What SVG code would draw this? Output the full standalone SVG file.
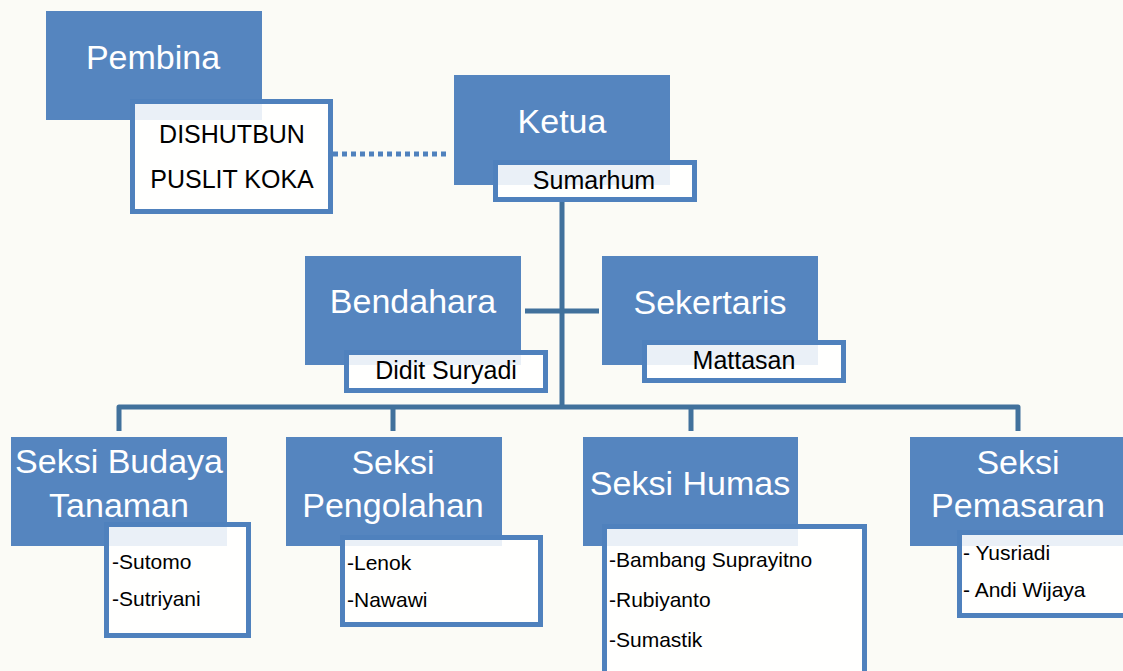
<svg xmlns="http://www.w3.org/2000/svg" width="1123" height="671" viewBox="0 0 1123 671">
<style>
.bg{fill:#fbfbf6}
.head{fill:#4f81bd;fill-opacity:0.97}
.sub{fill:#ffffff;fill-opacity:0.88;stroke:#4f81bd;stroke-width:5}
.ht{font-family:"Liberation Sans",Arial,sans-serif;font-size:34px;fill:#ffffff}
.st{font-family:"Liberation Sans",Arial,sans-serif;font-size:25px;fill:#000000}
.lt{font-family:"Liberation Sans",Arial,sans-serif;font-size:21px;fill:#000000}
.conn{fill:none;stroke:#41719c;stroke-width:5;stroke-linejoin:round}
</style>
<rect class="bg" x="0" y="0" width="1123" height="671"/>
<g id="connectors">
<path class="conn" d="M562,202 V407"/>
<path class="conn" d="M525,311 H599"/>
<path class="conn" d="M119,431 V407 H1018 V431"/>
<path class="conn" d="M393,407 V431"/>
<path class="conn" d="M691,407 V431"/>
<path d="M333,154 H448" fill="none" stroke="#4f81bd" stroke-width="5" stroke-dasharray="5 4"/>
</g>
<g id="pembina">
<rect class="head" x="46" y="11" width="216" height="109"/>
<text class="ht" x="153" y="69" text-anchor="middle">Pembina</text>
<rect class="sub" x="132.5" y="101.5" width="198" height="110"/>
<text class="st" x="232" y="143" text-anchor="middle" font-size="23">DISHUTBUN</text>
<text class="st" x="232" y="188" text-anchor="middle" font-size="23">PUSLIT KOKA</text>
</g>
<g id="ketua">
<rect class="head" x="454" y="75" width="216" height="110"/>
<text class="ht" x="562" y="133" text-anchor="middle">Ketua</text>
<rect class="sub" x="495.5" y="162.5" width="199" height="37"/>
<text class="st" x="594" y="189" text-anchor="middle">Sumarhum</text>
</g>
<g id="bendahara">
<rect class="head" x="305" y="256" width="216" height="109"/>
<text class="ht" x="413" y="313" text-anchor="middle">Bendahara</text>
<rect class="sub" x="346.5" y="352.5" width="199" height="38"/>
<text class="st" x="446" y="379" text-anchor="middle">Didit Suryadi</text>
</g>
<g id="sekertaris">
<rect class="head" x="602" y="256" width="216" height="109"/>
<text class="ht" x="710" y="314" text-anchor="middle">Sekertaris</text>
<rect class="sub" x="644.5" y="342.5" width="199" height="38"/>
<text class="st" x="744" y="369" text-anchor="middle">Mattasan</text>
</g>
<g id="seksi-budaya">
<rect class="head" x="11" y="437" width="216" height="109"/>
<text class="ht" x="119" y="473" text-anchor="middle">Seksi Budaya</text>
<text class="ht" x="119" y="517" text-anchor="middle">Tanaman</text>
<rect class="sub" x="106.5" y="524.5" width="142" height="111"/>
<text class="lt" x="112" y="569">-Sutomo</text>
<text class="lt" x="112" y="606">-Sutriyani</text>
</g>
<g id="seksi-pengolahan">
<rect class="head" x="286" y="437" width="216" height="109"/>
<text class="ht" x="393" y="474" text-anchor="middle">Seksi</text>
<text class="ht" x="393" y="517" text-anchor="middle">Pengolahan</text>
<rect class="sub" x="342.5" y="537.5" width="198" height="87"/>
<text class="lt" x="347" y="570">-Lenok</text>
<text class="lt" x="347" y="607">-Nawawi</text>
</g>
<g id="seksi-humas">
<rect class="head" x="583" y="437" width="215" height="109"/>
<text class="ht" x="690" y="495" text-anchor="middle">Seksi Humas</text>
<rect class="sub" x="604.5" y="526.5" width="260" height="160"/>
<text class="lt" x="609" y="567" font-size="23.5">-Bambang Suprayitno</text>
<text class="lt" x="609" y="607" font-size="23.5">-Rubiyanto</text>
<text class="lt" x="609" y="647" font-size="23.5">-Sumastik</text>
</g>
<g id="seksi-pemasaran">
<rect class="head" x="910" y="437" width="216" height="109"/>
<text class="ht" x="1018" y="474" text-anchor="middle">Seksi</text>
<text class="ht" x="1018" y="517" text-anchor="middle">Pemasaran</text>
<rect class="sub" x="959.5" y="532.5" width="199" height="83"/>
<text class="lt" x="963" y="560">- Yusriadi</text>
<text class="lt" x="963" y="597">- Andi Wijaya</text>
</g>
</svg>
